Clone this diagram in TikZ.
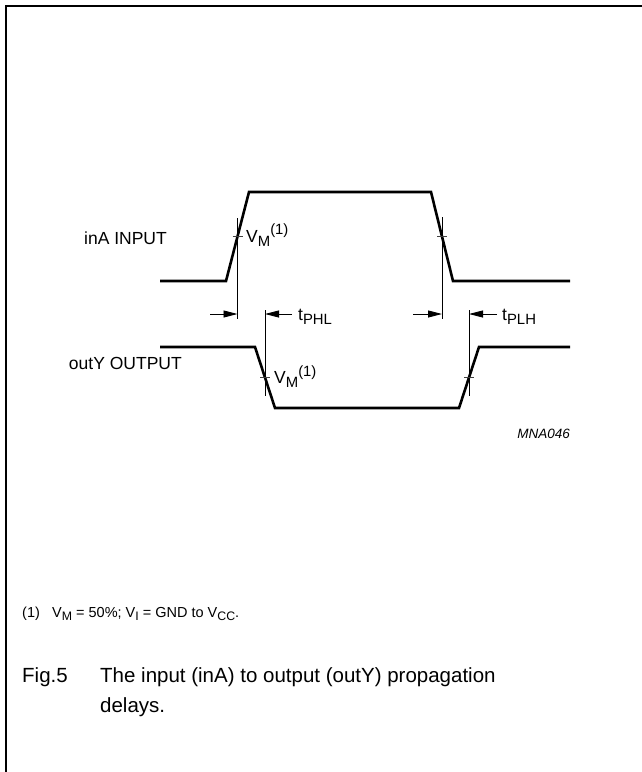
\documentclass[tikz,border=0pt]{standalone}
\usepackage{fontspec}
\setmainfont{Liberation Sans}
\usetikzlibrary{arrows.meta,calc}
\newcommand\dsub[1]{\raisebox{-0.45ex}{\scalebox{0.85}{#1}}}
\newcommand\dsup[1]{\raisebox{0.8ex}{\scalebox{0.85}{#1}}}
\begin{document}
\begin{tikzpicture}[x=1pt,y=-1pt,
  wave/.style={line width=2.6pt, line join=miter},
  guide/.style={line width=0.9pt},
  tickmark/.style={line width=0.9pt, black!75},
  dimarrow/.style={line width=0.9pt, -{Triangle[length=14pt,width=7pt]}},
  lbl/.style={font=\fontsize{17.5}{20}\selectfont, inner sep=0pt},
  note/.style={font=\fontsize{14.5}{16}\selectfont, inner sep=0pt},
  capt/.style={font=\fontsize{20.5}{24}\selectfont, inner sep=0pt},
  code/.style={font=\fontsize{13.5}{15}\selectfont\itshape, inner sep=0pt}]
\useasboundingbox (0,0) rectangle (642,772);
% frame
\draw[line width=1.6pt] (642,6) -- (6,6) -- (6,772);
% input waveform
\coordinate (i0) at (160,281); \coordinate (i1) at (226,281);
\coordinate (i2) at (249,192); \coordinate (i3) at (431,192);
\coordinate (i4) at (453,281); \coordinate (i5) at (570,281);
\draw[wave] (i0) -- (i1) -- (i2) -- (i3) -- (i4) -- (i5);
% output waveform
\coordinate (o0) at (160,347); \coordinate (o1) at (255,347);
\coordinate (o2) at (275,408); \coordinate (o3) at (459,408);
\coordinate (o4) at (479,347); \coordinate (o5) at (570,347);
\draw[wave] (o0) -- (o1) -- (o2) -- (o3) -- (o4) -- (o5);
% crossing points
\coordinate (m1) at ($(i1)!0.5!(i2)$);
\coordinate (m2) at ($(i3)!0.5!(i4)$);
\coordinate (m3) at ($(o1)!0.5!(o2)$);
\coordinate (m4) at ($(o3)!0.5!(o4)$);
% vertical guides
\coordinate (v1t) at (237.5,218); \coordinate (v1b) at (237.5,319);
\coordinate (v2t) at (442,217);   \coordinate (v2b) at (442,319);
\coordinate (v3t) at (265,310);   \coordinate (v3b) at (265,396);
\coordinate (v4t) at (469,310);   \coordinate (v4b) at (469,396);
\draw[guide] (v1t) -- (v1b);
\draw[guide] (v2t) -- (v2b);
\draw[guide] (v3t) -- (v3b);
\draw[guide] (v4t) -- (v4b);
% ticks
\foreach \m in {m1,m2,m3,m4}
  \draw[tickmark] ($(\m)+(-5,0)$) -- ($(\m)+(5,0)$);
% dimension arrows
\coordinate (a1s) at (210,314);   \coordinate (a1e) at (237.5,314);
\coordinate (a2s) at (292,314);   \coordinate (a2e) at (265,314);
\coordinate (a3s) at (413,314);   \coordinate (a3e) at (442,314);
\coordinate (a4s) at (497,314);   \coordinate (a4e) at (469,314);
\draw[dimarrow] (a1s) -- (a1e);
\draw[dimarrow] (a2s) -- (a2e);
\draw[dimarrow] (a3s) -- (a3e);
\draw[dimarrow] (a4s) -- (a4e);
% labels
\node[lbl, anchor=base east] (inlbl) at (167,244.5) {inA INPUT};
\node[lbl, anchor=base east] (outlbl) at (182,369.5) {outY OUTPUT};
\node[lbl, anchor=base west] (vm1) at (246,242) {V\dsub{M}\dsup{(1)}};
\node[lbl, anchor=base west] (vm2) at (274,383.5) {V\dsub{M}\dsup{(1)}};
\node[lbl, anchor=base west] (tphl) at (298,320) {t\dsub{PHL}};
\node[lbl, anchor=base west] (tplh) at (502,320) {t\dsub{PLH}};
\node[code, anchor=base east] (mna) at (570,438) {MNA046};
% notes and caption
\node[note, anchor=base west] (n1) at (22,617) {(1)};
\node[note, anchor=base west] (n2) at (52,617) {V\dsub{M} = 50\%; V\dsub{I} = GND to V\dsub{CC}.};
\node[capt, anchor=base west] (fig) at (22,682) {Fig.5};
\node[capt, anchor=base west] (cap1) at (100,682) {The input (inA) to output (outY) propagation};
\node[capt, anchor=base west] (cap2) at (100,712) {delays.};
\end{tikzpicture}
\end{document}
